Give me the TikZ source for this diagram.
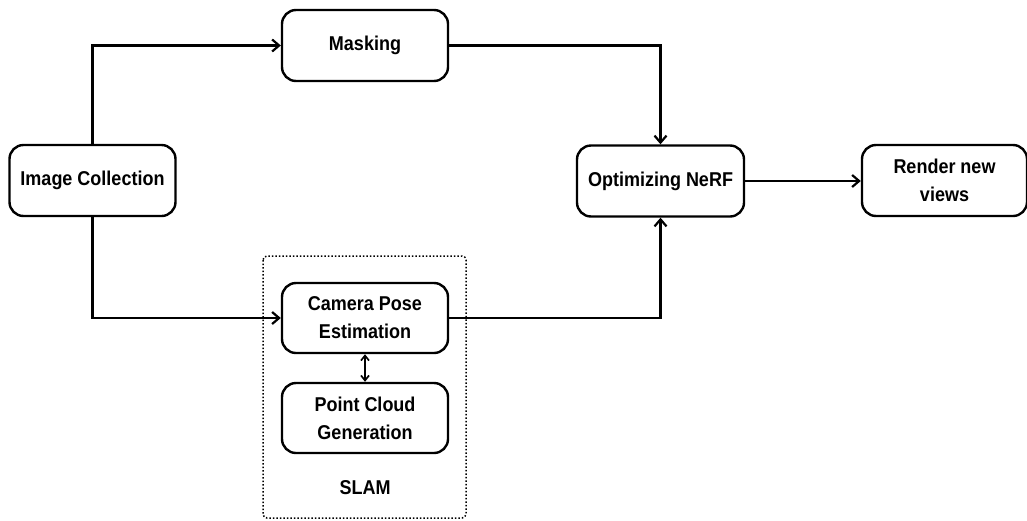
\documentclass[tikz,border=0pt]{standalone}
\usepackage{fontspec}
\setmainfont[FakeStretch=0.9]{Liberation Sans}
\usetikzlibrary{arrows.meta}
\begin{document}
\begin{tikzpicture}[x=1pt,y=-1pt,
  box/.style={draw,line width=2.4pt,rounded corners=14pt,minimum width=166pt,minimum height=71pt,
    align=center,font=\fontsize{20}{28}\selectfont\bfseries,inner sep=2pt},
  flow/.style={line width=2.6pt,-{Straight Barb[length=7pt,width=12pt,line width=2.2pt]}},
  both/.style={line width=2pt,{Straight Barb[length=5pt,width=8pt,line width=1.7pt]}-{Straight Barb[length=5pt,width=8pt,line width=1.7pt]}}]
\useasboundingbox (0,0) rectangle (1027,520);
% SLAM group frame
\draw[dotted,line width=1.5pt,rounded corners=4pt] (263,256) rectangle (466,518);
\node[font=\fontsize{20}{24}\selectfont\bfseries] (slam) at (365,488) {SLAM};
% processing steps
\node[box] (img) at (92.5,180.5) {Image Collection};
\node[box] (mask) at (365,45.5) {Masking};
\node[box,minimum width=167pt] (nerf) at (660.5,181) {Optimizing NeRF};
\node[box,minimum width=165pt] (render) at (944.5,180.5) {Render new\\views};
\node[box,minimum height=70pt] (cam) at (365,318) {Camera Pose\\Estimation};
\node[box,minimum height=70pt] (pcg) at (365,418) {Point Cloud\\Generation};
% connectors
\draw[flow] (img.north) |- (mask.west);
\draw[flow] (img.south) |- (cam.west);
\draw[flow] (mask.east) -| (nerf.north);
\draw[flow] (cam.east) -| (nerf.south);
\draw[flow] (nerf.east) -- (render.west |- nerf.east);
\draw[both] (cam.south) -- (pcg.north);
\end{tikzpicture}
\end{document}
